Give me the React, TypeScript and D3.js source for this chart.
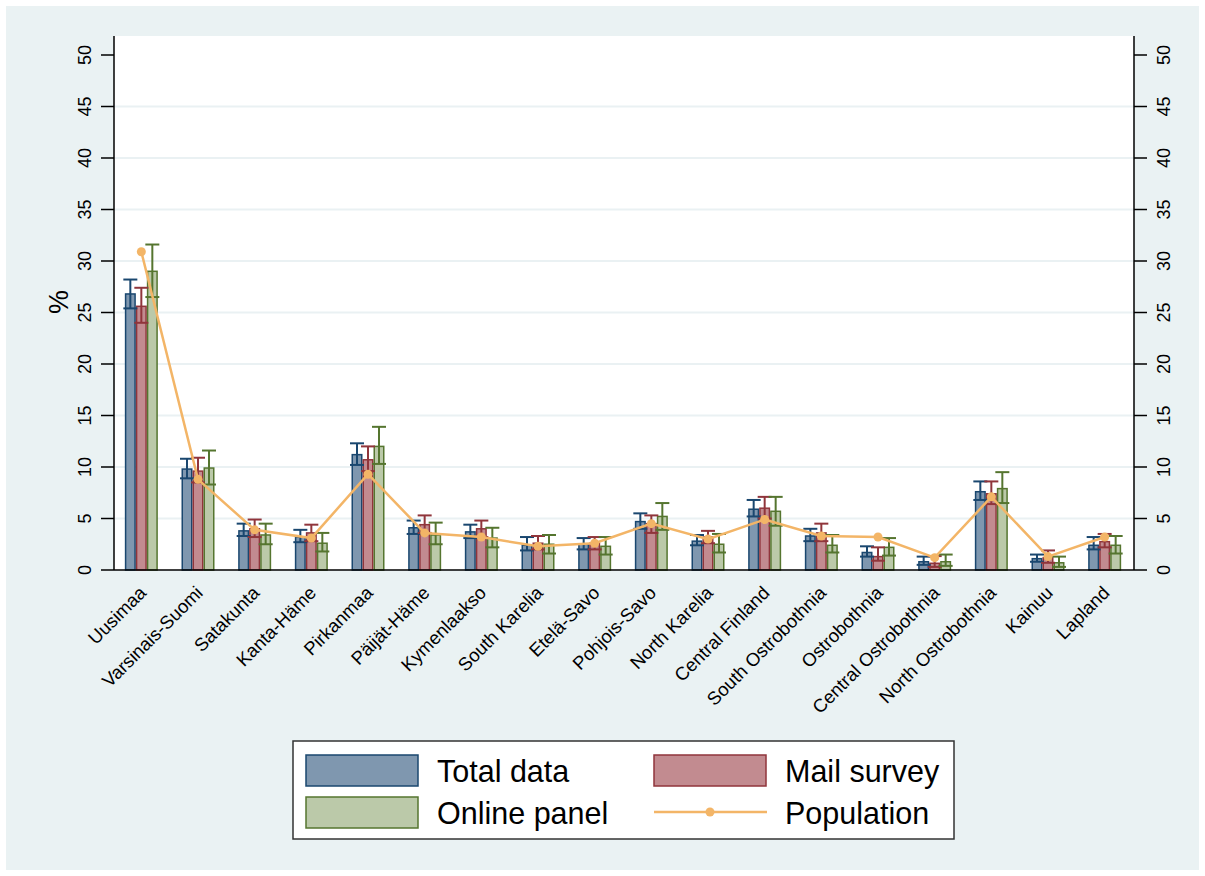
import React from "react";
import * as d3 from "d3";

// Regions of Finland
const regions = [
  "Uusimaa", "Varsinais-Suomi", "Satakunta", "Kanta-Häme", "Pirkanmaa",
  "Päijät-Häme", "Kymenlaakso", "South Karelia", "Etelä-Savo", "Pohjois-Savo",
  "North Karelia", "Central Finland", "South Ostrobothnia", "Ostrobothnia",
  "Central Ostrobothnia", "North Ostrobothnia", "Kainuu", "Lapland",
];

// Share of respondents (%) with 95% confidence bounds
const totalData = [26.8, 9.8, 3.8, 3.2, 11.2, 4.1, 3.7, 2.4, 2.5, 4.7, 2.8, 5.9, 3.3, 1.7, 0.8, 7.6, 1.1, 2.4];
const totalLo = [25.4, 8.9, 3.3, 2.7, 10.2, 3.5, 3.1, 1.9, 2.0, 4.0, 2.4, 5.2, 2.8, 1.3, 0.5, 6.8, 0.8, 2.0];
const totalHi = [28.2, 10.8, 4.5, 3.9, 12.3, 4.8, 4.4, 3.2, 3.1, 5.5, 3.4, 6.8, 4.0, 2.3, 1.3, 8.6, 1.5, 3.2];

const mailSurvey = [25.6, 9.6, 4.0, 3.6, 10.7, 4.4, 4.0, 2.6, 2.6, 4.5, 3.2, 6.0, 3.6, 1.3, 0.65, 7.4, 1.2, 2.75];
const mailLo = [24.0, 8.5, 3.2, 2.8, 9.6, 3.6, 3.2, 2.0, 2.0, 3.6, 2.6, 5.0, 2.8, 0.9, 0.3, 6.4, 0.7, 2.2];
const mailHi = [27.4, 10.9, 4.9, 4.4, 12.0, 5.3, 4.8, 3.3, 3.2, 5.3, 3.8, 7.1, 4.5, 2.2, 1.35, 8.6, 1.9, 3.5];

const onlinePanel = [29.0, 9.9, 3.4, 2.6, 12.0, 3.4, 3.1, 2.5, 2.3, 5.2, 2.5, 5.7, 2.4, 2.2, 0.8, 7.9, 0.7, 2.4];
const onlineLo = [26.5, 8.3, 2.5, 1.8, 10.3, 2.5, 2.2, 1.6, 1.5, 3.9, 1.7, 4.3, 1.7, 1.4, 0.4, 6.5, 0.3, 1.6];
const onlineHi = [31.6, 11.6, 4.5, 3.6, 13.9, 4.6, 4.1, 3.4, 3.2, 6.5, 3.5, 7.1, 3.4, 3.1, 1.5, 9.5, 1.3, 3.3];

const population = [30.9, 8.8, 3.9, 3.1, 9.3, 3.6, 3.2, 2.3, 2.6, 4.5, 3.0, 4.9, 3.3, 3.2, 1.2, 7.1, 1.3, 3.2];

const yTicks = [0, 5, 10, 15, 20, 25, 30, 35, 40, 45, 50];

const series = [
  { name: "Total data", values: totalData, lo: totalLo, hi: totalHi, fill: "#7f97af", stroke: "#1a476f" },
  { name: "Mail survey", values: mailSurvey, lo: mailLo, hi: mailHi, fill: "#c28b90", stroke: "#90353b" },
  { name: "Online panel", values: onlinePanel, lo: onlineLo, hi: onlineHi, fill: "#bbc9a9", stroke: "#55752f" },
];
const popColor = "#f3b567";
const gridColor = "#eaf1f3";
const bgColor = "#eaf2f3";

const W = 1205;
const H = 876;
const plot = { left: 114, right: 1134, top: 36, bottom: 570 };
const font = "'Liberation Sans', Arial, sans-serif";

export default function App() {
  const x = d3.scaleBand<string>().domain(regions).range([plot.left, plot.right]).padding(0);
  const y = d3.scaleLinear().domain([0, 50]).range([plot.bottom, plot.bottom - 515]);
  const barW = 11;
  const center = (r: string) => (x(r) as number) + x.bandwidth() / 2 - 1;
  const offsets = [-barW, 0, barW];
  const capW = 14;

  const popLine = d3
    .line<number>()
    .x((_, i) => center(regions[i]))
    .y((d) => y(d));

  return (
    <svg
      width={W}
      height={H}
      style={{ position: "absolute", left: 0, top: 0, display: "block" }}
      fontFamily={font}
    >
      <rect x={0} y={0} width={W} height={H} fill="#ffffff" />
      <rect x={6} y={6} width={1193} height={864} fill={bgColor} />
      <rect x={plot.left} y={plot.top} width={plot.right - plot.left} height={plot.bottom - plot.top} fill="#ffffff" />

      {/* grid */}
      {yTicks
        .filter((t) => t > 0 && t < 50)
        .map((t) => (
          <line key={`g${t}`} x1={plot.left} x2={plot.right} y1={y(t)} y2={y(t)} stroke={gridColor} strokeWidth={2} />
        ))}

      {/* bars */}
      {series.map((s, si) =>
        regions.map((r, i) => {
          const cx = center(r) + offsets[si];
          return (
            <rect
              key={`b${si}-${i}`}
              x={cx - barW / 2 + 0.75}
              y={y(s.values[i])}
              width={barW - 1.5}
              height={y(0) - y(s.values[i])}
              fill={s.fill}
              stroke={s.stroke}
              strokeWidth={1.5}
            />
          );
        })
      )}

      {/* confidence intervals */}
      {series.map((s, si) =>
        regions.map((r, i) => {
          const cx = center(r) + offsets[si];
          return (
            <g key={`e${si}-${i}`} stroke={s.stroke} strokeWidth={2}>
              <line x1={cx} x2={cx} y1={y(s.lo[i])} y2={y(s.hi[i])} />
              <line x1={cx - capW / 2} x2={cx + capW / 2} y1={y(s.hi[i])} y2={y(s.hi[i])} />
              <line x1={cx - capW / 2} x2={cx + capW / 2} y1={y(s.lo[i])} y2={y(s.lo[i])} />
            </g>
          );
        })
      )}

      {/* population */}
      <path d={popLine(population) ?? ""} fill="none" stroke={popColor} strokeWidth={2.5} />
      {population.map((v, i) => (
        <circle key={`p${i}`} cx={center(regions[i])} cy={y(v)} r={4.5} fill={popColor} />
      ))}

      {/* axes */}
      <line x1={plot.left} x2={plot.left} y1={plot.top} y2={plot.bottom} stroke="#000" strokeWidth={1.5} />
      <line x1={plot.right} x2={plot.right} y1={plot.top} y2={plot.bottom} stroke="#000" strokeWidth={1.5} />
      <line x1={plot.left} x2={plot.right} y1={plot.bottom} y2={plot.bottom} stroke="#000" strokeWidth={1.5} />

      {yTicks.map((t) => (
        <g key={`t${t}`}>
          <line x1={plot.left - 13} x2={plot.left} y1={y(t)} y2={y(t)} stroke="#000" strokeWidth={1.5} />
          <line x1={plot.right} x2={plot.right + 13} y1={y(t)} y2={y(t)} stroke="#000" strokeWidth={1.5} />
          <text
            x={91}
            y={y(t)}
            transform={`rotate(-90, 91, ${y(t)})`}
            textAnchor="middle"
            fontSize={18}
            fill="#000"
          >
            {t}
          </text>
          <text
            x={1170}
            y={y(t)}
            transform={`rotate(-90, 1170, ${y(t)})`}
            textAnchor="middle"
            fontSize={18}
            fill="#000"
          >
            {t}
          </text>
        </g>
      ))}

      <text x={68} y={302} transform="rotate(-90, 68, 302)" textAnchor="middle" fontSize={27} fill="#000">
        %
      </text>

      {regions.map((r) => {
        const bx = center(r) + 6;
        const by = 594;
        return (
          <text
            key={`x${r}`}
            x={bx}
            y={by}
            transform={`rotate(-45, ${bx}, ${by})`}
            textAnchor="end"
            fontSize={18.5}
            fill="#000"
          >
            {r}
          </text>
        );
      })}

      {/* legend */}
      <rect x={293} y={741} width={661} height={98} fill="#ffffff" stroke="#333" strokeWidth={1.5} />
      {[
        { s: series[0], x: 306, y: 755 },
        { s: series[1], x: 654, y: 755 },
        { s: series[2], x: 306, y: 797 },
      ].map((l) => (
        <g key={l.s.name}>
          <rect x={l.x} y={l.y} width={112} height={31} fill={l.s.fill} stroke={l.s.stroke} strokeWidth={1.5} />
          <text x={l.x + 131} y={l.y + 27} fontSize={30.5} fill="#000">
            {l.s.name}
          </text>
        </g>
      ))}
      <line x1={654} x2={767} y1={812} y2={812} stroke={popColor} strokeWidth={2.5} />
      <circle cx={710} cy={812} r={4.5} fill={popColor} />
      <text x={785} y={824} fontSize={30.5} fill="#000">
        Population
      </text>
    </svg>
  );
}
